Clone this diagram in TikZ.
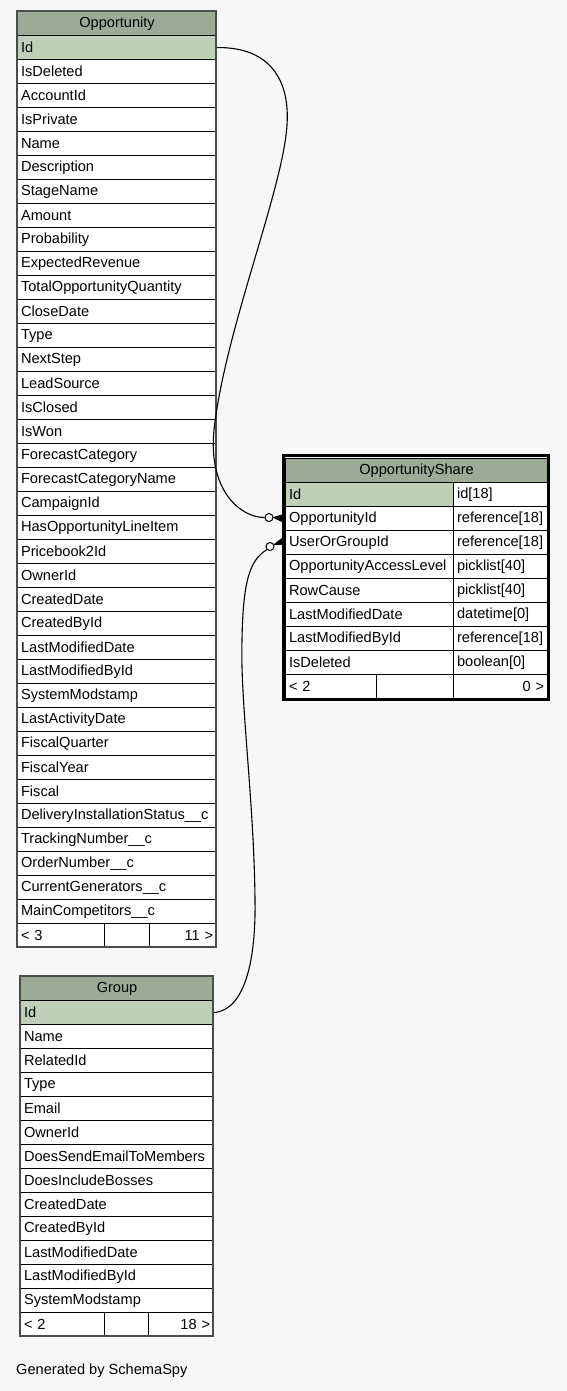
\documentclass[tikz,border=0pt]{standalone}
\usepackage{fontspec}
\setmainfont{Liberation Sans}
\definecolor{hdrgreen}{HTML}{9BAB96}
\definecolor{pkgreen}{HTML}{BED1B8}
\definecolor{canvas}{HTML}{F7F7F7}
\tikzset{
  cell/.style={draw=black, line width=1.1pt, anchor=north west, minimum height=24pt,
    inner xsep=3.5pt, inner ysep=0pt, align=left, font=\fontsize{14.6}{16}\selectfont},
  hdrcell/.style={cell, fill=hdrgreen, align=center},
  pkcell/.style={cell, fill=pkgreen},
  rowcell/.style={cell, fill=white},
  footcell/.style={cell, fill=white},
  odot/.style={circle, draw=black, fill=white, line width=1pt, minimum size=8pt, inner sep=0pt},
  link/.style={draw=black, line width=1.1pt},
  crow/.style={fill=black, draw=black, line width=0.8pt, line join=round},
}
\begin{document}
\begin{tikzpicture}[x=1pt, y=-1pt]
    \fill[canvas] (0,0) rectangle (567,1391);
    \useasboundingbox (0,0) rectangle (567,1391);

    % Opportunity
    \node[hdrcell, text width=192pt] (opp-h) at (17,11) {Opportunity};
    \node[pkcell, text width=192pt] (opp-id) at (17,35) {Id};
    \foreach \f [count=\i from 0] in {IsDeleted, AccountId, IsPrivate, Name, Description,
        StageName, Amount, Probability, ExpectedRevenue, TotalOpportunityQuantity,
        CloseDate, Type, NextStep, LeadSource, IsClosed, IsWon, ForecastCategory,
        ForecastCategoryName, CampaignId, HasOpportunityLineItem, Pricebook2Id, OwnerId,
        CreatedDate, CreatedById, LastModifiedDate, LastModifiedById, SystemModstamp,
        LastActivityDate, FiscalQuarter, FiscalYear, Fiscal,
        DeliveryInstallationStatus\_\_c, TrackingNumber\_\_c, OrderNumber\_\_c,
        CurrentGenerators\_\_c, MainCompetitors\_\_c}
        \node[rowcell, text width=192pt] (opp-\i) at (17,{59+24*\i}) {\f};
    \node[footcell, text width=80pt] (opp-f1) at (17,923) {< 3};
    \node[footcell, text width=38pt] (opp-f2) at (104,923) {};
    \node[footcell, text width=60pt, align=right] (opp-f3) at (149,923) {11 >};
    \draw[black!70, line width=1.6pt] (17,11) rectangle (216,947);

    % Group
    \node[hdrcell, text width=186pt] (grp-h) at (20,976) {Group};
    \node[pkcell, text width=186pt] (grp-id) at (20,1000) {Id};
    \foreach \f [count=\i from 0] in {Name, RelatedId, Type, Email, OwnerId,
        DoesSendEmailToMembers, DoesIncludeBosses, CreatedDate, CreatedById,
        LastModifiedDate, LastModifiedById, SystemModstamp}
        \node[rowcell, text width=186pt] (grp-\i) at (20,{1024+24*\i}) {\f};
    \node[footcell, text width=77pt] (grp-f1) at (20,1312) {< 2};
    \node[footcell, text width=37pt] (grp-f2) at (104,1312) {};
    \node[footcell, text width=58pt, align=right] (grp-f3) at (148,1312) {18 >};
    \draw[black!70, line width=1.6pt] (20,976) rectangle (213,1336);

    % OpportunityShare
    \node[hdrcell, text width=255pt] (share-h) at (285,458) {OpportunityShare};
    \node[pkcell, text width=161pt] (share-id) at (285,482) {Id};
    \node[rowcell, text width=87pt] (share-idt) at (453,482) {id[18]};
    \foreach \f/\t [count=\i from 0] in {OpportunityId/reference[18],
        UserOrGroupId/reference[18], OpportunityAccessLevel/picklist[40],
        RowCause/picklist[40], LastModifiedDate/datetime[0],
        LastModifiedById/reference[18], IsDeleted/boolean[0]}
    {
        \node[rowcell, text width=161pt] (share-\i) at (285,{506+24*\i}) {\f};
        \node[rowcell, text width=87pt] (share-t\i) at (453,{506+24*\i}) {\t};
    }
    \node[footcell, text width=84pt] (share-f1) at (285,674) {< 2};
    \node[footcell, text width=70pt] (share-f2) at (376,674) {};
    \node[footcell, text width=87pt, align=right] (share-f3) at (453,674) {0 >};
    \draw[black, line width=2.6pt] (283.5,455.5) rectangle (548.5,699.5);

    % relationships
    \node[odot] (opp-o) at (269,517.5) {};
    \node[odot] (grp-o) at (270,546.5) {};

    \draw[link] (opp-id.east) .. controls (270,47) and (290,80) .. (287,125)
        .. controls (283,190) and (225,330) .. (214,430)
        .. controls (208,490) and (240,517.5) .. (opp-o.west);
    \filldraw[crow] (opp-o.east) -- ([yshift=4.5pt]share-0.west) -- ([yshift=-4.5pt]share-0.west) -- cycle;

    \draw[link] (grp-id.east) .. controls (245,1010) and (256,960) .. (255,900)
        .. controls (254,800) and (240,700) .. (242,640)
        .. controls (243,580) and (250,560) .. (grp-o.225);
    \filldraw[crow] (grp-o.25) -- ([yshift=6.5pt]share-1.west) -- ([yshift=-2pt]share-1.west) -- cycle;

    \node[anchor=west, font=\fontsize{14.6}{16}\selectfont, inner sep=0pt] (credit) at (16,1371) {Generated by SchemaSpy};
\end{tikzpicture}
\end{document}
